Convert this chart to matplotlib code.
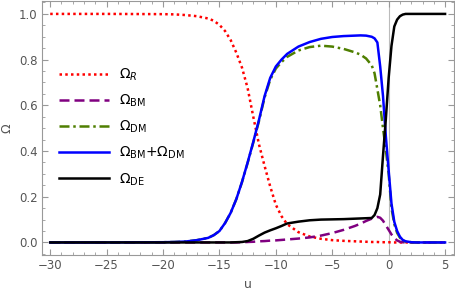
import matplotlib
matplotlib.use('Agg')
import matplotlib.pyplot as plt
from matplotlib.ticker import MultipleLocator, FormatStrFormatter

# sample points along u
u = [-30, -25, -20, -19, -18, -17, -16, -15.5, -15, -14.5, -14, -13.5, -13, -12.5, -12,
     -11.5, -11, -10.5, -10, -9.5, -9, -8, -7, -6, -5, -4, -3, -2.5, -2, -1.5,
     -1.25, -1, -0.75, -0.5, -0.25, 0, 0.25, 0.5, 0.75, 1, 1.25, 1.5, 2, 2.5, 3, 4, 5]

omega_r = [1.0, 1.0, 0.999, 0.998, 0.995, 0.99, 0.98, 0.97, 0.952, 0.925, 0.885, 0.83,
           0.765, 0.675, 0.55, 0.43, 0.335, 0.245, 0.165, 0.115, 0.08, 0.045, 0.026,
           0.016, 0.01, 0.007, 0.005, 0.004, 0.003, 0.002, 0.002, 0.002, 0.001, 0.001,
           0.001, 0.001, 0, 0, 0, 0, 0, 0, 0, 0, 0, 0, 0]

omega_bm = [0, 0, 0, 0, 0, 0, 0, 0, 0, 0, 0, 0, 0.001, 0.002, 0.003, 0.005, 0.006, 0.008,
            0.009, 0.011, 0.013, 0.017, 0.022, 0.03, 0.041, 0.055, 0.072, 0.082, 0.094,
            0.104, 0.108, 0.112, 0.108, 0.095, 0.075, 0.055, 0.035, 0.019, 0.009, 0.003,
            0.001, 0, 0, 0, 0, 0, 0]

omega_dm = [0, 0, 0.001, 0.002, 0.004, 0.01, 0.02, 0.032, 0.05, 0.085, 0.13, 0.19, 0.264,
            0.348, 0.437, 0.53, 0.634, 0.712, 0.761, 0.789, 0.812, 0.84, 0.855, 0.861,
            0.857, 0.847, 0.832, 0.822, 0.805, 0.775, 0.74, 0.67, 0.6, 0.5, 0.405, 0.3,
            0.15, 0.08, 0.042, 0.021, 0.009, 0.004, 0.001, 0, 0, 0, 0]

omega_m = [0, 0, 0.001, 0.002, 0.004, 0.01, 0.02, 0.032, 0.05, 0.085, 0.13, 0.19, 0.265,
           0.35, 0.44, 0.535, 0.64, 0.72, 0.77, 0.80, 0.825, 0.857, 0.877, 0.891, 0.899,
           0.903, 0.905, 0.906, 0.905, 0.9, 0.893, 0.875, 0.77, 0.64, 0.465, 0.315, 0.17,
           0.09, 0.05, 0.025, 0.011, 0.005, 0.001, 0, 0, 0, 0]

omega_de = [0, 0, 0, 0, 0, 0, 0, 0, 0, 0, 0, 0.001, 0.002, 0.006, 0.016, 0.03, 0.043,
            0.053, 0.062, 0.072, 0.083, 0.091, 0.097, 0.1, 0.101, 0.102, 0.104, 0.105,
            0.106, 0.107, 0.12, 0.15, 0.21, 0.38, 0.54, 0.72, 0.86, 0.945, 0.975, 0.99,
            0.997, 1.0, 1.0, 1.0, 1.0, 1.0, 1.0]

fig = plt.figure(figsize=(4.55, 2.96), dpi=100)
ax = fig.add_axes([0.093, 0.14, 0.905, 0.857])

ax.axvline(0, color='#bbbbbb', lw=0.8, zorder=0)

lw = 1.8
ax.plot(u, omega_r, color='red', ls=(0, (1, 1.3)), lw=lw, label=r'$\Omega_{\mathit{R}}$')
ax.plot(u, omega_bm, color='#800080', ls=(0, (4, 2)), lw=lw, label=r'$\Omega_{\mathrm{BM}}$')
ax.plot(u, omega_dm, color='#4f7f00', ls=(0, (4, 1.5, 1, 1.5)), lw=lw, label=r'$\Omega_{\mathrm{DM}}$')
ax.plot(u, omega_m, color='blue', lw=lw, label=r'$\Omega_{\mathrm{BM}}$+$\Omega_{\mathrm{DM}}$')
ax.plot(u, omega_de, color='black', lw=lw, label=r'$\Omega_{\mathrm{DE}}$')

ax.set_xlim(-30.7, 5.8)
ax.set_ylim(-0.053, 1.057)
ax.xaxis.set_major_locator(MultipleLocator(5))
ax.xaxis.set_minor_locator(MultipleLocator(1))
ax.yaxis.set_major_locator(MultipleLocator(0.2))
ax.yaxis.set_minor_locator(MultipleLocator(0.05))
ax.yaxis.set_major_formatter(FormatStrFormatter('%.1f'))

grey = '#999999'
for s in ax.spines.values():
    s.set_color(grey)
ax.tick_params(which='both', direction='in', top=True, right=True, color=grey,
               labelcolor='#555555', labelsize=8.5)
ax.tick_params(which='major', length=4)
ax.tick_params(which='minor', length=2)

ax.set_xlabel('u', color='#555555', fontsize=9)
ax.set_ylabel('Ω', color='#555555', fontsize=9)

ax.legend(loc='upper left', bbox_to_anchor=(0.01, 0.79), frameon=False,
          handlelength=3.6, handletextpad=0.7, labelspacing=0.7, fontsize=10)

fig.savefig('out.png', dpi=100)
